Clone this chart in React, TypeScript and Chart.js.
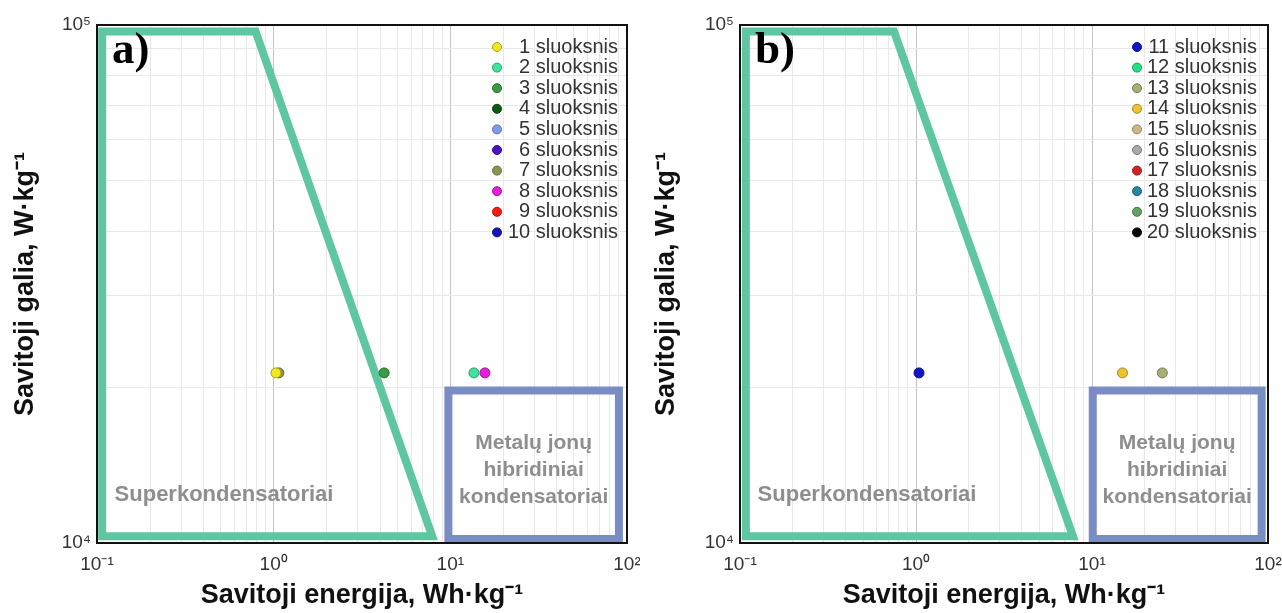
import { useEffect, useRef } from 'react';
import { Chart, registerables } from 'chart.js';

Chart.register(...registerables);

// ---- Data ----
const LAYERS_A = ['1 sluoksnis', '2 sluoksnis', '3 sluoksnis', '4 sluoksnis', '5 sluoksnis', '6 sluoksnis', '7 sluoksnis', '8 sluoksnis', '9 sluoksnis', '10 sluoksnis'];
const COLORS_A = ['#f2e81e', '#3fe39a', '#3a9a45', '#0b5a12', '#7d9de6', '#4a14c4', '#8a9550', '#e41fd8', '#ff1a10', '#1414b4'];
const ENERGY_A: (number | null)[] = [1.03, 13.6, 4.22, null, null, null, 1.07, 15.7, null, null];
const POWER_A: (number | null)[] = [21300, 21300, 21300, null, null, null, 21300, 21300, null, null];

const LAYERS_B = ['11 sluoksnis', '12 sluoksnis', '13 sluoksnis', '14 sluoksnis', '15 sluoksnis', '16 sluoksnis', '17 sluoksnis', '18 sluoksnis', '19 sluoksnis', '20 sluoksnis'];
const COLORS_B = ['#1414c8', '#22e27e', '#a9ae74', '#efc232', '#c9b985', '#a9a9a9', '#d02424', '#2a84a4', '#62a464', '#050505'];
const ENERGY_B: (number | null)[] = [1.04, null, 25.1, 14.9, null, null, null, null, null, null];
const POWER_B: (number | null)[] = [21300, null, 21300, 21300, null, null, null, null, null, null];

// Region outlines (energy, power)
const SUPERCAP_X_A = [0.107, 0.107, 0.79, 7.9, 0.107];
const SUPERCAP_Y_A = [10300, 97200, 97200, 10300, 10300];
const HYBRID_X_A = [9.75, 9.75, 90, 90, 9.75];
const HYBRID_Y_A = [10180, 19700, 19700, 10180, 10180];

const SUPERCAP_X_B = [0.108, 0.108, 0.75, 7.8, 0.108];
const SUPERCAP_Y_B = [10300, 97200, 97200, 10300, 10300];
const HYBRID_X_B = [10.1, 10.1, 92, 92, 10.1];
const HYBRID_Y_B = [10180, 19700, 19700, 10180, 10180];

const X_DECADES = [0.1, 1, 10, 100];
const X_TICK_LABELS = ['10⁻¹', '10⁰', '10¹', '10²'];
const Y_DECADES = [10000, 100000];
const Y_TICK_LABELS = ['10⁴', '10⁵'];

const X_TITLE = 'Savitoji energija, Wh·kg⁻¹';
const Y_TITLE = 'Savitoji galia, W·kg⁻¹';
const SUPERCAP_LABEL = 'Superkondensatoriai';
const HYBRID_LABEL = ['Metalų jonų', 'hibridiniai', 'kondensatoriai'];

const GREEN = '#5ec6a1';
const BLUE = '#7a8cc4';

function logTicks(min: number, max: number) {
  const out: number[] = [];
  for (let e = Math.round(Math.log10(min)); e < Math.round(Math.log10(max)); e++) {
    for (let m = 1; m < 10; m++) out.push(m * Math.pow(10, e));
  }
  out.push(max);
  return out;
}

function labelFor(v: number, decades: number[], labels: string[]) {
  for (let i = 0; i < decades.length; i++) {
    if (Math.abs(v - decades[i]) / decades[i] < 1e-6) return labels[i];
  }
  return '';
}

function isDecade(v: number) {
  const l = Math.log10(v);
  return Math.abs(l - Math.round(l)) < 1e-6;
}

type PanelProps = {
  tag: string;
  layers: string[];
  colors: string[];
  energy: (number | null)[];
  power: (number | null)[];
  supX: number[];
  supY: number[];
  hybX: number[];
  hybY: number[];
  width: number;
  yAxisWidth: number;
  padRight: number;
  legendMarkerOffset: number;
  legendTextOffset: number;
};

function darken(hex: string, f: number) {
  const n = parseInt(hex.slice(1), 16);
  const r = Math.round(((n >> 16) & 255) * f);
  const g = Math.round(((n >> 8) & 255) * f);
  const b = Math.round((n & 255) * f);
  return `rgb(${r},${g},${b})`;
}

const SANS = '"Liberation Sans", Arial, sans-serif';

function Panel(p: PanelProps) {
  const ref = useRef<HTMLCanvasElement>(null);
  useEffect(() => {
    if (!ref.current) return;
    const pointSets = p.layers.map((label, i) => ({
      label,
      data: p.energy[i] != null ? [{ x: p.energy[i] as number, y: p.power[i] as number }] : [],
      backgroundColor: p.colors[i],
      borderColor: darken(p.colors[i], 0.7),
      borderWidth: 1,
      pointRadius: 5,
      showLine: false,
    }));
    const supData = p.supX.map((x, i) => ({ x, y: p.supY[i] }));
    const hybData = p.hybX.map((x, i) => ({ x, y: p.hybY[i] }));

    const overlay = {
      id: 'overlay' + p.tag,
      afterDatasetsDraw(chart: any) {
        const { ctx, chartArea: a, scales } = chart;
        const xs = scales.x;
        const ys = scales.y;
        ctx.save();
        // region labels
        ctx.fillStyle = '#8e8e8e';
        ctx.font = `bold 22px ${SANS}`;
        ctx.textAlign = 'center';
        ctx.textBaseline = 'middle';
        const sx = a.left + 127;
        ctx.fillText(SUPERCAP_LABEL, sx, ys.getPixelForValue(12400));
        ctx.font = `bold 21px ${SANS}`;
        const hx = (xs.getPixelForValue(p.hybX[0]) + xs.getPixelForValue(p.hybX[2])) / 2;
        const hy0 = ys.getPixelForValue(15600);
        HYBRID_LABEL.forEach((t, i) => ctx.fillText(t, hx, hy0 + i * 27));
        // panel tag
        ctx.fillStyle = '#000';
        ctx.font = 'bold 45px "Liberation Serif", "Times New Roman", serif';
        ctx.textAlign = 'left';
        ctx.textBaseline = 'alphabetic';
        ctx.fillText(p.tag + ')', a.left + 15, a.top + 38);
        // legend
        ctx.font = `20px ${SANS}`;
        ctx.textBaseline = 'middle';
        p.layers.forEach((label, i) => {
          const y = a.top + 22 + i * 20.6;
          const mx = a.right - p.legendMarkerOffset;
          ctx.beginPath();
          ctx.arc(mx, y, 4.5, 0, Math.PI * 2);
          ctx.fillStyle = p.colors[i];
          ctx.fill();
          ctx.lineWidth = 1;
          ctx.strokeStyle = darken(p.colors[i], 0.7);
          ctx.stroke();
          ctx.fillStyle = '#333';
          ctx.textAlign = 'right';
          ctx.fillText(label, a.right - p.legendTextOffset, y);
        });
        // frame
        ctx.strokeStyle = '#111';
        ctx.lineWidth = 2;
        ctx.strokeRect(a.left, a.top, a.right - a.left, a.bottom - a.top);
        ctx.restore();
      },
    };

    const chart = new Chart(ref.current, {
      type: 'scatter',
      data: {
        datasets: [
          ...pointSets,
          {
            label: 'sup',
            data: supData,
            showLine: true,
            borderColor: GREEN,
            borderWidth: 8,
            pointRadius: 0,
            fill: false,
            borderJoinStyle: 'miter',
            borderCapStyle: 'square',
            tension: 0,
            clip: false,
          } as any,
          {
            label: 'hyb',
            data: hybData,
            showLine: true,
            borderColor: BLUE,
            borderWidth: 8,
            pointRadius: 0,
            fill: false,
            borderJoinStyle: 'miter',
            borderCapStyle: 'square',
            tension: 0,
            clip: false,
          } as any,
        ],
      },
      options: {
        responsive: false,
        animation: false,
        layout: { padding: { left: 0, right: p.padRight, top: 25, bottom: 0 } },
        plugins: { legend: { display: false }, tooltip: { enabled: false } },
        scales: {
          x: {
            type: 'logarithmic',
            min: 0.1,
            max: 100,
            afterBuildTicks: (s: any) => {
              s.ticks = logTicks(0.1, 100).map((v) => ({ value: v }));
            },
            afterFit: (s: any) => {
              s.height = 70;
              s.paddingLeft = 0;
              s.paddingRight = 0;
            },
            ticks: {
              autoSkip: false,
              maxRotation: 0,
              padding: 10,
              color: '#333',
              font: { family: SANS, size: 19 },
              callback: (v: any) => labelFor(Number(v), X_DECADES, X_TICK_LABELS),
            },
            grid: {
              drawTicks: false,
              color: (c: any) => (c.tick && isDecade(c.tick.value) ? '#c4c4c4' : '#e8e8e8'),
            },
            border: { display: false },
            title: {
              display: true,
              text: X_TITLE,
              color: '#111',
              font: { family: SANS, size: 27, weight: 'bold' },
              padding: { top: 0, bottom: 1 },
            },
          },
          y: {
            type: 'logarithmic',
            min: 10000,
            max: 100000,
            afterBuildTicks: (s: any) => {
              s.ticks = logTicks(10000, 100000).map((v) => ({ value: v }));
            },
            afterFit: (s: any) => {
              s.width = p.yAxisWidth;
              s.paddingTop = 0;
              s.paddingBottom = 0;
            },
            ticks: {
              autoSkip: false,
              padding: 6,
              color: '#333',
              font: { family: SANS, size: 19 },
              callback: (v: any) => labelFor(Number(v), Y_DECADES, Y_TICK_LABELS),
            },
            grid: {
              drawTicks: false,
              color: (c: any) => (c.tick && isDecade(c.tick.value) ? '#c4c4c4' : '#e8e8e8'),
            },
            border: { display: false },
            title: {
              display: true,
              text: Y_TITLE,
              color: '#111',
              font: { family: SANS, size: 27, weight: 'bold' },
              padding: { top: 9, bottom: 0 },
            },
          },
        },
      },
      plugins: [overlay],
    });
    return () => chart.destroy();
  }, []);
  return <canvas ref={ref} width={p.width} height={613} style={{ display: 'block' }} />;
}

export default function App() {
  return (
    <div style={{ position: 'absolute', left: 0, top: 0, width: 1282, height: 613, background: '#fff', overflow: 'hidden' }}>
      <div style={{ position: 'absolute', left: 0, top: 0 }}>
        <Panel
          tag="a"
          layers={LAYERS_A}
          colors={COLORS_A}
          energy={ENERGY_A}
          power={POWER_A}
          supX={SUPERCAP_X_A}
          supY={SUPERCAP_Y_A}
          hybX={HYBRID_X_A}
          hybY={HYBRID_Y_A}
          width={640}
          yAxisWidth={97}
          padRight={13}
          legendMarkerOffset={130}
          legendTextOffset={9}
        />
      </div>
      <div style={{ position: 'absolute', left: 641, top: 0 }}>
        <Panel
          tag="b"
          layers={LAYERS_B}
          colors={COLORS_B}
          energy={ENERGY_B}
          power={POWER_B}
          supX={SUPERCAP_X_B}
          supY={SUPERCAP_Y_B}
          hybX={HYBRID_X_B}
          hybY={HYBRID_Y_B}
          width={641}
          yAxisWidth={99}
          padRight={14}
          legendMarkerOffset={131}
          legendTextOffset={11}
        />
      </div>
    </div>
  );
}
